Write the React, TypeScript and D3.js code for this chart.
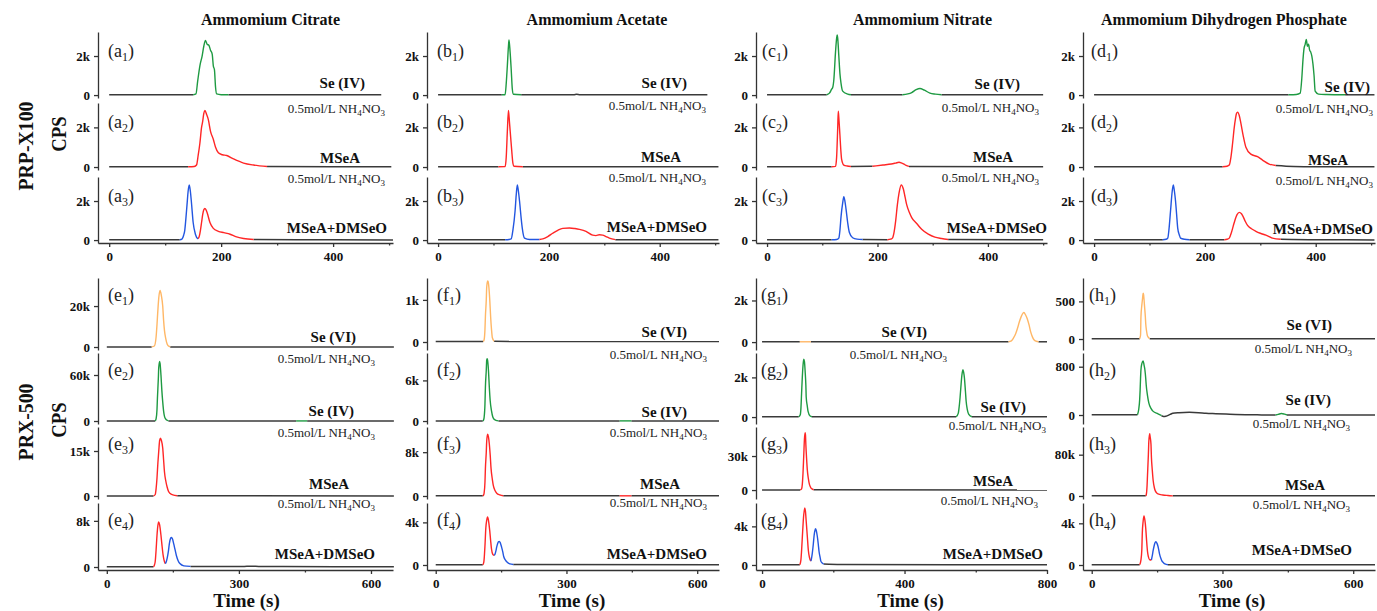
import React, { useEffect, useRef } from "react";
import * as d3 from "d3";

type Pt = [number, number];
type Seg = { c: string; p: Pt[] };

const GRAY = "#3a3a3a";
const GREEN = "#1e9a42";
const RED = "#ff2626";
const BLUE = "#2356e0";
const ORANGE = "#ffb766";

const titles = [
  "Ammomium Citrate",
  "Ammomium Acetate",
  "Ammomium Nitrate",
  "Ammomium Dihydrogen Phosphate",
];
const topLetters = ["a", "b", "c", "d"];
const bottomLetters = ["e", "f", "g", "h"];
const topNames = ["Se (IV)", "MSeA", "MSeA+DMSeO"];
const bottomNames = ["Se (VI)", "Se (IV)", "MSeA", "MSeA+DMSeO"];

const topXTicks = [0, 200, 400];
const topXMinor = [100, 300, 500];
const bottomXTicks = [[0, 300, 600], [0, 300, 600], [0, 400, 800], [0, 300, 600]];
const bottomXMinor = [[150, 450], [150, 450], [200, 600], [150, 450]];
const topXDomain: Pt = [-20, 507];
const bottomXDomains: Pt[] = [[-20, 650], [-20, 650], [-17, 800], [-20, 650]];

const topYTick = 2000;
const topYDomain: Pt = [-150, 3230];
const bottomYTicks = [
  [20000, 60000, 15000, 8000],
  [1000, 6000, 8000, 4000],
  [2000, 2000, 30000, 4000],
  [500, 800, 80000, 4000],
];
const bottomYDomains: Pt[][] = [
  [[-1460, 33700], [-3900, 88700], [-1000, 23000], [-520, 11100]],
  [[-190, 1520], [-440, 10050], [-550, 12600], [-470, 5820]],
  [[-380, 3080], [-350, 3230], [-7900, 55600], [-520, 6420]],
  [[-146, 811], [-149, 1027], [-5800, 133600], [-480, 5950]],
];

// ---- top row traces (PRP-X100) ----
const a1: Seg[] = [
  { c: GRAY, p: [[0, 15], [150, 15]] },
  { c: GRAY, p: [[213, 15], [486, 15]] },
  { c: GREEN, p: [[150, 15], [155, 60], [158, 700], [162, 1500], [166, 2000], [169, 2500], [172, 2800], [175, 2600], [178, 2550], [181, 2300], [184, 2100], [186, 1500], [188, 1300], [190, 400], [192, 60], [200, 20], [213, 15]] },
];
const a2: Seg[] = [
  { c: GRAY, p: [[0, 15], [141, 15]] },
  { c: GRAY, p: [[282, 30], [400, 15], [504, 10]] },
  { c: RED, p: [[141, 15], [152, 30], [156, 100], [159, 600], [162, 1200], [165, 2000], [167, 2300], [169, 2700], [171, 2850], [174, 2650], [177, 2400], [181, 1800], [186, 1400], [190, 1000], [195, 720], [202, 620], [210, 580], [222, 410], [240, 200], [258, 100], [282, 30]] },
];
const a3: Seg[] = [
  { c: GRAY, p: [[0, 15], [126, 15]] },
  { c: GRAY, p: [[258, 30], [400, 15], [507, 10]] },
  { c: BLUE, p: [[126, 15], [130, 50], [133, 250], [135, 500], [137, 1100], [139, 1800], [141, 2500], [143, 2820], [145, 2500], [147, 1900], [150, 900], [154, 300], [158, 80], [159, 70]] },
  { c: RED, p: [[159, 70], [161, 200], [163, 500], [165, 900], [167, 1300], [169, 1550], [171, 1620], [173, 1550], [175, 1400], [180, 900], [186, 600], [195, 450], [205, 380], [216, 300], [226, 180], [240, 80], [258, 30]] },
];
const b1: Seg[] = [
  { c: GRAY, p: [[0, 15], [115, 15]] },
  { c: GRAY, p: [[150, 15], [245, 15], [250, 40], [256, 15], [486, 15]] },
  { c: GREEN, p: [[115, 15], [121, 20], [123, 600], [125, 1500], [127, 2500], [128, 2820], [130, 2200], [132, 1300], [134, 300], [136, 40], [150, 15]] },
];
const b2: Seg[] = [
  { c: GRAY, p: [[0, 15], [109, 15]] },
  { c: GRAY, p: [[153, 15], [506, 15]] },
  { c: RED, p: [[109, 15], [121, 20], [123, 500], [125, 1800], [127, 2850], [129, 2200], [131, 1500], [133, 800], [135, 200], [137, 40], [153, 15]] },
];
const b3: Seg[] = [
  { c: GRAY, p: [[0, 15], [121, 15]] },
  { c: GRAY, p: [[320, 20], [506, 15]] },
  { c: BLUE, p: [[121, 15], [128, 30], [132, 60], [135, 500], [139, 1500], [141, 2300], [143, 2820], [145, 2500], [147, 2000], [150, 1100], [152, 600], [156, 100], [165, 30], [183, 30]] },
  { c: RED, p: [[183, 30], [189, 60], [198, 180], [207, 350], [216, 500], [225, 600], [237, 620], [247, 590], [255, 550], [267, 450], [279, 250], [285, 230], [291, 270], [297, 250], [303, 180], [309, 100], [320, 20]] },
];
const c1: Seg[] = [
  { c: GRAY, p: [[0, 15], [108, 15]] },
  { c: GRAY, p: [[152, 15], [245, 15]] },
  { c: GRAY, p: [[316, 20], [500, 15]] },
  { c: GREEN, p: [[108, 15], [113, 100], [117, 300], [119, 400], [121, 800], [124, 2200], [126, 2900], [127, 3080], [128, 2900], [130, 2000], [132, 1100], [134, 600], [137, 200], [146, 50], [152, 15]] },
  { c: GREEN, p: [[245, 15], [255, 60], [262, 130], [270, 280], [277, 340], [285, 250], [295, 100], [305, 50], [316, 20]] },
];
const c2: Seg[] = [
  { c: GRAY, p: [[0, 15], [117, 15]] },
  { c: GRAY, p: [[152, 30], [191, 40]] },
  { c: GRAY, p: [[257, 30], [500, 15]] },
  { c: RED, p: [[117, 15], [124, 30], [126, 500], [128, 2000], [129, 2820], [130, 2500], [132, 1600], [134, 700], [135, 400], [139, 100], [145, 50], [152, 30]] },
  { c: RED, p: [[191, 40], [210, 100], [225, 150], [233, 200], [239, 240], [244, 200], [248, 150], [252, 80], [257, 30]] },
];
const c3: Seg[] = [
  { c: GRAY, p: [[0, 15], [117, 15]] },
  { c: GRAY, p: [[173, 30], [218, 20]] },
  { c: GRAY, p: [[328, 30], [500, 15]] },
  { c: BLUE, p: [[117, 15], [126, 30], [130, 100], [132, 500], [134, 1200], [137, 1900], [139, 2220], [141, 2000], [143, 1600], [146, 900], [149, 400], [155, 120], [163, 50], [173, 30]] },
  { c: RED, p: [[218, 20], [224, 50], [227, 100], [230, 400], [233, 1000], [236, 1800], [239, 2400], [243, 2820], [247, 2600], [250, 2200], [253, 1800], [258, 1400], [262, 1150], [271, 850], [280, 550], [292, 300], [304, 150], [316, 80], [328, 30]] },
];
const d1: Seg[] = [
  { c: GRAY, p: [[0, 15], [351, 15]] },
  { c: GRAY, p: [[453, 15], [506, 15]] },
  { c: GREEN, p: [[351, 15], [365, 30], [372, 100], [375, 900], [377, 1800], [379, 2400], [381, 2600], [383, 2850], [385, 2500], [387, 2600], [389, 2300], [391, 2200], [393, 2000], [395, 1600], [397, 1000], [399, 200], [405, 50], [420, 30], [453, 15]] },
];
const d2: Seg[] = [
  { c: GRAY, p: [[0, 15], [232, 15]] },
  { c: GRAY, p: [[328, 80], [360, 30], [400, 15], [506, 10]] },
  { c: RED, p: [[232, 15], [240, 40], [244, 100], [247, 500], [250, 1200], [253, 2000], [255, 2400], [257, 2700], [259, 2770], [262, 2600], [265, 2200], [269, 1600], [274, 1000], [283, 650], [295, 520], [304, 350], [316, 150], [328, 80]] },
];
const d3s: Seg[] = [
  { c: GRAY, p: [[0, 15], [124, 15]] },
  { c: GRAY, p: [[172, 20], [235, 20]] },
  { c: GRAY, p: [[337, 40], [400, 15], [506, 10]] },
  { c: BLUE, p: [[124, 15], [130, 40], [133, 100], [135, 500], [138, 1500], [141, 2500], [143, 2820], [145, 2500], [147, 2000], [149, 1300], [151, 600], [154, 250], [156, 100], [163, 40], [172, 20]] },
  { c: RED, p: [[235, 20], [240, 40], [244, 100], [248, 400], [253, 900], [258, 1300], [262, 1420], [266, 1350], [269, 1200], [273, 950], [277, 750], [284, 580], [292, 450], [300, 350], [310, 250], [322, 100], [337, 40]] },
];

// ---- bottom row traces (PRX-500) ----
const e1: Seg[] = [
  { c: GRAY, p: [[0, 50], [102, 50]] },
  { c: GRAY, p: [[144, 50], [652, 50]] },
  { c: ORANGE, p: [[102, 50], [108, 500], [112, 5000], [114, 11000], [116, 18000], [118, 24000], [121, 27600], [124, 25000], [127, 20000], [129, 13000], [131, 8000], [134, 4000], [137, 1500], [140, 500], [144, 100]] },
];
const e2: Seg[] = [
  { c: GRAY, p: [[0, 100], [110, 100]] },
  { c: GRAY, p: [[140, 100], [430, 100]] },
  { c: GRAY, p: [[455, 100], [652, 100]] },
  { c: GREEN, p: [[110, 100], [112, 3000], [114, 15000], [115, 30000], [117, 55000], [118, 70000], [120, 77800], [121, 75000], [123, 60000], [125, 40000], [127, 25000], [129, 13000], [131, 6000], [134, 2500], [137, 1000], [140, 200]] },
  { c: GREEN, p: [[430, 100], [455, 100]] },
];
const e3: Seg[] = [
  { c: GRAY, p: [[0, 30], [106, 30]] },
  { c: GRAY, p: [[160, 60], [652, 30]] },
  { c: RED, p: [[106, 30], [110, 500], [112, 2500], [114, 6000], [116, 11000], [118, 15000], [120, 18500], [122, 19300], [124, 18500], [127, 16000], [129, 12000], [131, 8000], [134, 5000], [137, 3000], [140, 1600], [144, 800], [150, 400], [160, 100]] },
];
const e4: Seg[] = [
  { c: GRAY, p: [[0, 30], [106, 30]] },
  { c: GRAY, p: [[190, 100], [300, 80], [318, 120], [330, 150], [345, 100], [400, 70], [652, 40]] },
  { c: RED, p: [[106, 30], [108, 300], [110, 1000], [112, 3000], [114, 5500], [116, 7200], [118, 7830], [120, 7300], [123, 5500], [125, 4000], [128, 2000], [130, 1200], [133, 600]] },
  { c: BLUE, p: [[133, 600], [135, 900], [137, 1500], [140, 2800], [142, 4000], [145, 5000], [147, 5140], [149, 4900], [152, 4000], [155, 3000], [158, 2000], [162, 1100], [166, 600], [175, 200], [190, 100]] },
];
const f1: Seg[] = [
  { c: GRAY, p: [[0, 10], [109, 10]] },
  { c: GRAY, p: [[134, 15], [650, 10]] },
  { c: ORANGE, p: [[109, 10], [111, 50], [113, 300], [114, 600], [116, 1000], [117, 1300], [119, 1450], [120, 1440], [122, 1300], [124, 1000], [126, 600], [128, 300], [130, 100], [134, 20]] },
];
const f2: Seg[] = [
  { c: GRAY, p: [[0, 20], [108, 20]] },
  { c: GRAY, p: [[144, 20], [422, 20]] },
  { c: GRAY, p: [[449, 20], [650, 20]] },
  { c: GREEN, p: [[108, 20], [110, 200], [111, 500], [113, 2500], [114, 5000], [116, 7500], [117, 9000], [118, 9200], [119, 9000], [121, 7500], [123, 5000], [125, 3000], [128, 1500], [131, 600], [134, 250], [138, 100], [144, 20]] },
  { c: GREEN, p: [[422, 20], [449, 20]] },
];
const f3: Seg[] = [
  { c: GRAY, p: [[0, 30], [108, 30]] },
  { c: GRAY, p: [[155, 40], [422, 30]] },
  { c: GRAY, p: [[449, 30], [650, 30]] },
  { c: RED, p: [[108, 30], [110, 200], [111, 500], [113, 2500], [114, 5000], [116, 8000], [117, 10000], [119, 11300], [121, 10800], [123, 9500], [125, 7500], [127, 5000], [130, 3000], [132, 2000], [136, 1000], [140, 500], [147, 200], [155, 50]] },
  { c: RED, p: [[422, 30], [449, 30]] },
];
const f4: Seg[] = [
  { c: GRAY, p: [[0, 30], [108, 30]] },
  { c: GRAY, p: [[178, 50], [650, 30]] },
  { c: RED, p: [[108, 30], [110, 200], [111, 500], [113, 1800], [115, 3500], [117, 4200], [119, 4500], [121, 4200], [124, 3200], [126, 2300], [128, 1500], [131, 1000], [134, 900]] },
  { c: BLUE, p: [[134, 900], [136, 1000], [138, 1300], [140, 1700], [142, 2000], [144, 2180], [146, 2220], [148, 2100], [151, 1700], [154, 1200], [156, 800], [160, 450], [163, 300], [170, 100], [178, 50]] },
];
const g1: Seg[] = [
  { c: GRAY, p: [[0, 15], [106, 15]] },
  { c: GRAY, p: [[137, 15], [692, 15]] },
  { c: GRAY, p: [[776, 15], [800, 15]] },
  { c: ORANGE, p: [[106, 15], [137, 15]] },
  { c: ORANGE, p: [[692, 15], [700, 60], [706, 200], [712, 400], [717, 650], [722, 950], [727, 1200], [731, 1350], [735, 1420], [740, 1300], [745, 1100], [750, 800], [754, 500], [759, 250], [764, 100], [770, 40], [776, 15]] },
];
const g2: Seg[] = [
  { c: GRAY, p: [[0, 15], [103, 15]] },
  { c: GRAY, p: [[140, 15], [545, 15]] },
  { c: GRAY, p: [[589, 15], [800, 15]] },
  { c: GREEN, p: [[103, 15], [107, 100], [109, 400], [111, 1200], [113, 2000], [115, 2600], [117, 2920], [119, 2800], [121, 2300], [123, 1600], [124, 1000], [127, 550], [129, 300], [135, 50], [140, 15]] },
  { c: GREEN, p: [[545, 15], [551, 200], [553, 450], [556, 1000], [559, 1700], [561, 2100], [564, 2390], [566, 2250], [568, 2000], [571, 1300], [573, 800], [576, 400], [580, 150], [589, 15]] },
];
const g3: Seg[] = [
  { c: GRAY, p: [[0, 100], [107, 100]] },
  { c: GRAY, p: [[145, 300], [800, 100]] },
  { c: RED, p: [[107, 100], [111, 1000], [113, 5000], [115, 15000], [117, 30000], [119, 45000], [121, 50600], [122, 48000], [123, 40000], [125, 28000], [127, 18000], [130, 10000], [133, 5000], [137, 2000], [140, 1000], [145, 300]] },
];
const g4: Seg[] = [
  { c: GRAY, p: [[0, 20], [106, 20]] },
  { c: GRAY, p: [[173, 100], [220, 50], [800, 20]] },
  { c: RED, p: [[106, 20], [109, 500], [111, 1500], [114, 3500], [117, 5200], [120, 5900], [122, 5500], [124, 4500], [127, 3000], [130, 1500], [133, 800], [137, 400]] },
  { c: BLUE, p: [[137, 400], [139, 700], [141, 1200], [144, 2200], [146, 3000], [148, 3500], [150, 3760], [152, 3600], [155, 3000], [158, 2100], [160, 1400], [163, 800], [165, 400], [169, 200], [173, 100]] },
];
const h1: Seg[] = [
  { c: GRAY, p: [[0, 5], [110, 5]] },
  { c: GRAY, p: [[133, 5], [650, 5]] },
  { c: ORANGE, p: [[110, 5], [112, 50], [113, 300], [115, 450], [117, 560], [118, 610], [119, 590], [121, 450], [123, 300], [124, 200], [126, 100], [128, 40], [133, 5]] },
];
const h2: Seg[] = [
  { c: GRAY, p: [[0, 5], [105, 5]] },
  { c: GRAY, p: [[160, -10], [165, -25], [170, -20], [180, 10], [186, 28], [200, 38], [224, 44], [245, 38], [262, 28], [285, 22], [308, 16], [330, 10], [353, 5], [390, 2], [422, 0]] },
  { c: GRAY, p: [[448, 0], [650, 0]] },
  { c: GREEN, p: [[105, 5], [108, 100], [110, 250], [111, 400], [112, 600], [113, 750], [115, 850], [118, 894], [120, 830], [122, 750], [124, 600], [125, 500], [128, 320], [131, 200], [136, 110], [141, 60], [152, 20], [160, -10]] },
  { c: GREEN, p: [[422, 0], [428, 10], [435, 25], [442, 15], [448, 0]] },
];
const h3: Seg[] = [
  { c: GRAY, p: [[0, 300], [124, 300]] },
  { c: GRAY, p: [[186, 300], [650, 300]] },
  { c: RED, p: [[124, 300], [125, 2000], [127, 20000], [128, 40000], [130, 80000], [131, 105000], [133, 120600], [134, 115000], [136, 100000], [137, 75000], [139, 50000], [141, 30000], [144, 15000], [148, 7000], [152, 4000], [163, 2000], [175, 1000], [186, 300]] },
];
const h4: Seg[] = [
  { c: GRAY, p: [[0, 20], [110, 20]] },
  { c: GRAY, p: [[175, 30], [650, 20]] },
  { c: RED, p: [[110, 20], [113, 500], [115, 1500], [116, 3000], [118, 4200], [120, 4700], [122, 4300], [124, 3500], [126, 2300], [128, 1300], [130, 800], [133, 500], [137, 480]] },
  { c: BLUE, p: [[137, 480], [139, 900], [141, 1400], [143, 1800], [145, 2100], [147, 2240], [150, 2050], [152, 1800], [154, 1400], [156, 1000], [159, 600], [161, 400], [165, 200], [168, 100], [175, 30]] },
];

const topTraces = [[a1, a2, a3], [b1, b2, b3], [c1, c2, c3], [d1, d2, d3s]];
const bottomTraces = [[e1, e2, e3, e4], [f1, f2, f3, f4], [g1, g2, g3, g4], [h1, h2, h3, h4]];

// ---- layout ----
const W = 1377;
const H = 611;
const colX: Pt[] = [[98, 393], [427, 719], [756, 1047], [1083, 1375]];
const topRows: Pt[] = [[32, 98], [103, 170], [177, 243]];
const bottomRows: Pt[] = [[278, 350], [353, 424], [427, 499], [503, 570]];
const titleDx = [25, 24, 21, -5];
const timeDx = [1, -1, 9, 3];
const topTagDx = [10, 10, 6, 8];
const bottomTagDx = [10, 10, 5, 6];
// series-name offsets [dx from right edge, dy from zero line]
const topNameOff: Pt[][] = [
  [[-28, -7], [-33, -4], [-6, -7]],
  [[-32, -7], [-38, -5], [-12, -8]],
  [[-27, -6], [-34, -5], [0, -7]],
  [[-5, -3], [-27, -2], [-2, -6]],
];
const topNoteOff: Pt[][] = [
  [[-8, 18], [-8, 16]],
  [[-13, 15], [-13, 15]],
  [[-8, 17], [-8, 15]],
  [[-2, 18], [-2, 18]],
];
const bottomNameOff: Pt[][] = [
  [[-37, -5], [-39, -5], [-44, -7], [-18, -8]],
  [[-32, -5], [-32, -4], [-39, -7], [-12, -6]],
  [[-120, -5], [-21, -5], [-34, -4], [-4, -6]],
  [[-43, -9], [-44, -10], [-50, -6], [-23, -10]],
];
const bottomNoteOff: Pt[][] = [
  [[-18, 16], [-18, 16], [-18, 12]],
  [[-12, 17], [-12, 16], [-12, 11]],
  [[-100, 17], [-1, 13], [-9, 15]],
  [[-23, 14], [-25, 13], [-25, 13]],
];

const FONT = "'Liberation Serif', 'Times New Roman', serif";
const fmt = (v: number) => (v === 0 ? "0" : v >= 1000 ? `${v / 1000}k` : `${v}`);

function Axis({ kind, scale, x, y, values, minor }: any) {
  const ref = useRef<SVGGElement>(null);
  useEffect(() => {
    const g = d3.select(ref.current);
    g.selectAll("*").remove();
    const make = kind === "left" ? d3.axisLeft : d3.axisBottom;
    const major = make(scale)
      .tickValues(values)
      .tickSize(4)
      .tickSizeOuter(0)
      .tickPadding(kind === "left" ? 4 : 5)
      .tickFormat((d: any) => fmt(d));
    g.append("g").call(major as any);
    if (minor) {
      const mg = g.append("g").call(
        make(scale).tickValues(minor).tickSize(2.5).tickFormat(() => "") as any
      );
      mg.select(".domain").remove();
    }
    g.selectAll("path,line").attr("stroke", "#333").attr("stroke-width", 1.3);
    g.selectAll("text")
      .attr("font-family", FONT)
      .attr("font-weight", "bold")
      .attr("font-size", 13)
      .attr("fill", "#111");
  }, [kind, scale, x, y, values, minor]);
  return <g ref={ref} transform={`translate(${x},${y})`} />;
}

function Note({ x, y }: { x: number; y: number }) {
  return (
    <text x={x} y={y} textAnchor="end" fontSize={13} fontFamily={FONT} fill="#222">
      0.5mol/L NH<tspan fontSize={9} dy={3}>4</tspan>
      <tspan dy={-3}>NO</tspan>
      <tspan fontSize={9} dy={3}>3</tspan>
    </text>
  );
}

function Tag({ x, y, letter, n }: { x: number; y: number; letter: string; n: number }) {
  return (
    <text x={x} y={y} fontSize={18} fontFamily={FONT} fill="#222">
      ({letter}
      <tspan fontSize={12} dy={4}>{n}</tspan>
      <tspan dy={-4}>)</tspan>
    </text>
  );
}

function Panel({ segs, xs, ys }: { segs: Seg[]; xs: any; ys: any }) {
  const line = d3
    .line<Pt>()
    .x((d) => xs(d[0]))
    .y((d) => ys(d[1]))
    .curve(d3.curveMonotoneX);
  return (
    <g>
      {segs.map((s, i) => (
        <path
          key={i}
          d={line(s.p) || ""}
          fill="none"
          stroke={s.c}
          strokeWidth={s.c === GRAY ? 1.5 : 1.4}
          strokeLinejoin="round"
        />
      ))}
    </g>
  );
}

export default function App() {
  const items: React.ReactNode[] = [];

  colX.forEach((cx, ci) => {
    // top row
    const xsTop = d3.scaleLinear().domain(topXDomain).range(cx);
    topRows.forEach((r, ri) => {
      const ys = d3.scaleLinear().domain(topYDomain).range([r[1], r[0]]);
      const z = ys(0);
      items.push(
        <g key={`t${ci}${ri}`}>
          <Axis kind="left" scale={ys} x={cx[0]} y={0} values={[0, topYTick]} />
          <Panel segs={topTraces[ci][ri]} xs={xsTop} ys={ys} />
          <Tag x={cx[0] + topTagDx[ci]} y={r[0] + 25} letter={topLetters[ci]} n={ri + 1} />
          <text
            x={cx[1] + topNameOff[ci][ri][0]}
            y={z + topNameOff[ci][ri][1]}
            textAnchor="end"
            fontSize={15}
            fontWeight="bold"
            fontFamily={FONT}
            fill="#111"
          >
            {topNames[ri]}
          </text>
          {ri < 2 && <Note x={cx[1] + topNoteOff[ci][ri][0]} y={z + topNoteOff[ci][ri][1]} />}
        </g>
      );
    });
    items.push(
      <Axis
        key={`tx${ci}`}
        kind="bottom"
        scale={xsTop}
        x={0}
        y={topRows[2][1]}
        values={topXTicks}
        minor={topXMinor}
      />
    );
    items.push(
      <text
        key={`title${ci}`}
        x={(cx[0] + cx[1]) / 2 + titleDx[ci]}
        y={25}
        textAnchor="middle"
        fontSize={16}
        fontWeight="bold"
        fontFamily={FONT}
        fill="#111"
      >
        {titles[ci]}
      </text>
    );

    // bottom row
    const xsBot = d3.scaleLinear().domain(bottomXDomains[ci]).range(cx);
    bottomRows.forEach((r, ri) => {
      const ys = d3.scaleLinear().domain(bottomYDomains[ci][ri]).range([r[1], r[0]]);
      const z = ys(0);
      items.push(
        <g key={`b${ci}${ri}`}>
          <Axis kind="left" scale={ys} x={cx[0]} y={0} values={[0, bottomYTicks[ci][ri]]} />
          <Panel segs={bottomTraces[ci][ri]} xs={xsBot} ys={ys} />
          <Tag x={cx[0] + bottomTagDx[ci]} y={r[0] + 23} letter={bottomLetters[ci]} n={ri + 1} />
          <text
            x={cx[1] + bottomNameOff[ci][ri][0]}
            y={z + bottomNameOff[ci][ri][1]}
            textAnchor="end"
            fontSize={15}
            fontWeight="bold"
            fontFamily={FONT}
            fill="#111"
          >
            {bottomNames[ri]}
          </text>
          {ri < 3 && <Note x={cx[1] + bottomNoteOff[ci][ri][0]} y={z + bottomNoteOff[ci][ri][1]} />}
        </g>
      );
    });
    items.push(
      <Axis
        key={`bx${ci}`}
        kind="bottom"
        scale={xsBot}
        x={0}
        y={bottomRows[3][1]}
        values={bottomXTicks[ci]}
        minor={bottomXMinor[ci]}
      />
    );
    items.push(
      <text
        key={`time${ci}`}
        x={(cx[0] + cx[1]) / 2 + timeDx[ci]}
        y={607}
        textAnchor="middle"
        fontSize={19}
        fontWeight="bold"
        fontFamily={FONT}
        fill="#111"
      >
        Time (s)
      </text>
    );
  });

  const side = (label: string, x: number, y: number, sx: number, key: string) => (
    <text
      key={key}
      transform={`translate(${x},${y}) rotate(-90) scale(${sx},1)`}
      textAnchor="middle"
      fontSize={22}
      fontWeight="bold"
      fontFamily={FONT}
      fill="#111"
    >
      {label}
    </text>
  );

  return (
    <svg
      width={W}
      height={H}
      viewBox={`0 0 ${W} ${H}`}
      style={{ position: "absolute", left: 0, top: 0, background: "#fff" }}
    >
      {side("PRP-X100", 33, 146, 0.9, "s1")}
      {side("CPS", 66, 134, 0.85, "s2")}
      {side("PRX-500", 33, 422, 0.9, "s3")}
      {side("CPS", 66, 420, 0.85, "s4")}
      {items}
    </svg>
  );
}
